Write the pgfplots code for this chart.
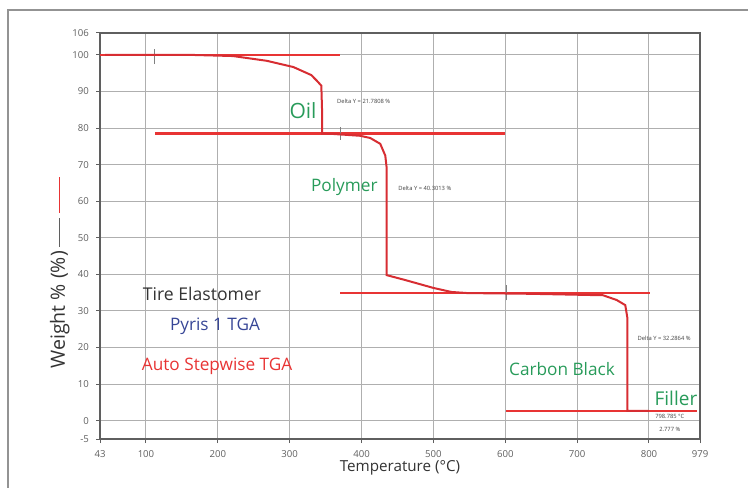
\documentclass[border=0pt]{standalone}
\usepackage{fontspec}
\setmainfont{Open Sans}
\usepackage{pgfplots}
\pgfplotsset{compat=1.18}
\definecolor{tgared}{RGB}{232,52,52}
\definecolor{curvered}{RGB}{215,45,50}
\definecolor{tgagreen}{RGB}{40,155,90}
\definecolor{tgablue}{RGB}{55,70,150}
\definecolor{gridgray}{RGB}{175,175,175}
\definecolor{axgray}{RGB}{95,95,95}
\begin{document}
\begin{tikzpicture}
\useasboundingbox (0,0) rectangle (374pt,243.5pt);
\draw[line width=1.2pt, color=gray!85] (4pt,-2pt) -- (4pt,238.5pt) -- (376pt,238.5pt);
\begin{axis}[
  at={(50pt,24pt)}, anchor=south west, scale only axis,
  width=300pt, height=203pt,
  xmin=36, xmax=871, ymin=-5, ymax=106,
  xtick={36,100,200,300,400,500,600,700,800,871},
  xticklabels={43,100,200,300,400,500,600,700,800,979},
  ytick={-5,0,10,20,30,40,50,60,70,80,90,100,106},
  xtick pos=bottom, ytick pos=left, tick align=outside,
  major tick length=2pt,
  tick style={axgray, line width=0.5pt},
  grid=major,
  major grid style={gridgray, line width=0.5pt},
  axis line style={axgray, line width=0.9pt},
  /pgf/number format/assume math mode=true,
  ticklabel style={font=\fontsize{4.8}{5}\selectfont, text=axgray},
  xlabel={Temperature (°C)},
  xlabel style={at={(axis description cs:0.5,-0.072)}, anchor=center, font=\fontsize{7.6}{8}\selectfont, text=black!80},
  ylabel={Weight \% (\%)},
  ylabel style={at={(axis description cs:-0.067,0.318)}, anchor=center, font=\fontsize{9.8}{10}\selectfont, text=black!80},
  clip=false,
]
% step (tangent) lines
\addplot[tgared, line width=1.25pt] coordinates {(36,100) (370,100)};
\addplot[tgared, line width=1.25pt] coordinates {(112.5,78.5) (600,78.5)};
\addplot[tgared, line width=1.25pt] coordinates {(370,34.9) (801,34.9)};
\addplot[tgared, line width=1.25pt] coordinates {(601,2.7) (867,2.7)};
% small markers on the step lines
\addplot[gray, line width=0.5pt] coordinates {(112.5,97.5) (112.5,101.6)};
\addplot[gray, line width=0.5pt] coordinates {(370,76.8) (370,80.4)};
\addplot[gray, line width=0.5pt] coordinates {(601,32.9) (601,37.2)};
% TGA curve
\addplot[curvered, line width=1pt] coordinates {
 (43,100) (165,100) (221,99.7) (268,98.4) (305,96.7) (330,94.5) (338,92.9) (344,91.6) (345,85) (345,78.5)
 (360,78.4) (398,77.9) (412,77.3) (426,75.7) (433,72.5) (435,69) (435,39.8)
 (460,38.5) (500,36.3) (525,35.2) (547,34.9) (634,34.7) (736,34.3) (755,33.0) (767,31.6)
 (770,28) (770,2.7) (800,2.7)};
% annotations
\node[text=tgagreen, font=\fontsize{10.5}{12}\selectfont] at (axis cs:318.5,84.7) {Oil};
\node[text=tgagreen, font=\fontsize{8.6}{10}\selectfont] at (axis cs:376,63.8) {Polymer};
\node[text=tgagreen, font=\fontsize{8.6}{10}\selectfont] at (axis cs:679,14.2) {Carbon Black};
\node[text=tgagreen, font=\fontsize{9.5}{11}\selectfont] at (axis cs:837.5,6.0) {Filler};
\node[text=black!80, font=\fontsize{8.8}{10}\selectfont] at (axis cs:178,34.6) {Tire Elastomer};
\node[text=tgablue, font=\fontsize{8.6}{10}\selectfont] at (axis cs:196,25.9) {Pyris 1 TGA};
\node[text=tgared, font=\fontsize{8.6}{10}\selectfont] at (axis cs:199,15.0) {Auto Stepwise TGA};
\node[text=black!75, font=\fontsize{2.9}{3.2}\selectfont] at (axis cs:403,87.2) {Delta Y = 21.7808 \%};
\node[text=black!75, font=\fontsize{2.9}{3.2}\selectfont] at (axis cs:488,63.5) {Delta Y = 40.3013 \%};
\node[text=black!75, font=\fontsize{2.9}{3.2}\selectfont] at (axis cs:821,22.6) {Delta Y = 32.2864 \%};
\node[text=black!75, font=\fontsize{2.9}{3.2}\selectfont] at (axis cs:829,1.1) {798.785 °C};
\node[text=black!75, font=\fontsize{2.9}{3.2}\selectfont] at (axis cs:829,-2.5) {2.777 \%};
% y-label line legend
\draw[tgared, line width=0.6pt] (axis description cs:-0.067,0.557) -- (axis description cs:-0.067,0.645);
\draw[axgray, line width=0.6pt] (axis description cs:-0.067,0.473) -- (axis description cs:-0.067,0.544);
\end{axis}
\end{tikzpicture}
\end{document}
